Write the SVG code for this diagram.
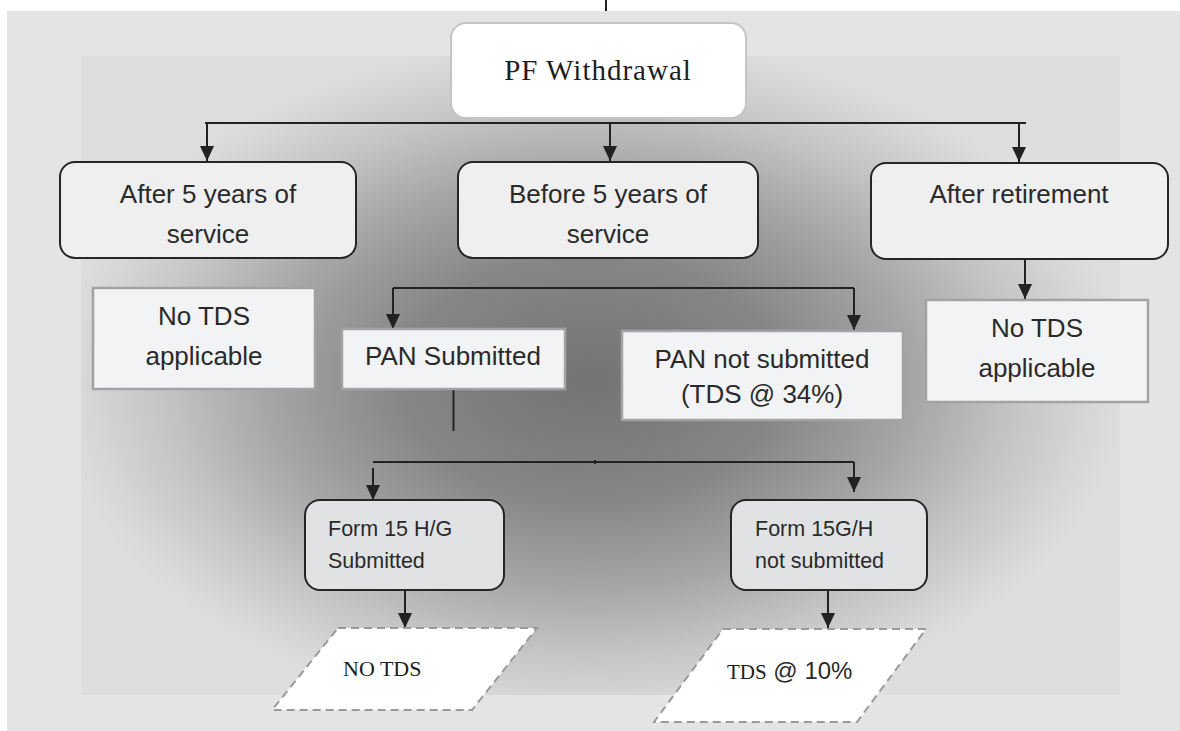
<svg xmlns="http://www.w3.org/2000/svg" width="1180" height="731" viewBox="0 0 1180 731">
  <defs>
    <radialGradient id="shade" gradientUnits="userSpaceOnUse" cx="590" cy="380" r="540" gradientTransform="translate(590 380) scale(1 0.64) translate(-590 -380)">
      <stop offset="0" stop-color="#737373"/>
      <stop offset="0.35" stop-color="#868686"/>
      <stop offset="0.6" stop-color="#a6a6a6"/>
      <stop offset="0.8" stop-color="#c6c6c6"/>
      <stop offset="0.95" stop-color="#d9d9d9"/>
      <stop offset="1" stop-color="#dedede"/>
    </radialGradient>
    <marker id="arrow" markerUnits="userSpaceOnUse" viewBox="0 0 15 14" refX="15" refY="7" markerWidth="15" markerHeight="14" orient="auto">
      <path d="M0,0 L15,7 L0,14 z" fill="#222"/>
    </marker>
    <style>
      .sans { font-family: "Liberation Sans", Arial, sans-serif; fill: #2a2a2a; }
      .serif { font-family: "Liberation Serif", "Times New Roman", serif; fill: #1e1e1e; }
      .big { font-size: 26px; text-anchor: middle; }
      .small { font-size: 21.5px; }
      .branch { fill: #efefef; stroke: #262626; stroke-width: 2; }
      .form { fill: #e1e2e4; stroke: #262626; stroke-width: 2; }
      .note { fill: #f2f3f5; stroke: #a3a3a3; stroke-width: 2.5; }
      .result { fill: #ffffff; stroke: #9a9a9a; stroke-width: 2; stroke-dasharray: 8 5; }
      .link { fill: none; stroke: #222; stroke-width: 2; }
      .arrow { marker-end: url(#arrow); }
    </style>
  </defs>

  <!-- backdrop -->
  <rect x="0" y="0" width="1180" height="731" fill="#ffffff"/>
  <rect x="7" y="11" width="1173" height="720" fill="#e4e4e4"/>
  <rect x="81" y="56" width="1039" height="639" fill="url(#shade)"/>

  <!-- connectors -->
  <g id="connectors">
    <path class="link" d="M606,0 V11" stroke-width="1.5"/>
    <path class="link" d="M205,123 H1026"/>
    <path class="link arrow" d="M207,123 V161"/>
    <path class="link arrow" d="M610,123 V161"/>
    <path class="link arrow" d="M1019,123 V162"/>
    <path class="link arrow" d="M1025,259 V299"/>
    <path class="link" d="M393,288 H854"/>
    <path class="link arrow" d="M393,288 V329"/>
    <path class="link arrow" d="M854,288 V330"/>
    <path class="link" d="M453.5,389 V431"/>
    <path class="link" d="M373,462 H854"/>
    <path class="link" d="M595,460 V464" stroke-width="1.5"/>
    <path class="link arrow" d="M373,468 V500"/>
    <path class="link arrow" d="M854,462 V492"/>
    <path class="link arrow" d="M405,590 V628"/>
    <path class="link arrow" d="M828,590 V628"/>
  </g>

  <g id="pf-withdrawal">
    <rect x="451" y="23" width="295" height="95" rx="15" fill="#ffffff" stroke="#c4c4c4" stroke-width="2"/>
    <text class="serif" x="598" y="80" font-size="29" letter-spacing="1" text-anchor="middle">PF Withdrawal</text>
  </g>

  <g id="after-five-years">
    <rect class="branch" x="60" y="162" width="296" height="96" rx="15"/>
    <text class="sans big" x="208" y="203">After 5 years of</text>
    <text class="sans big" x="208" y="243">service</text>
  </g>

  <g id="before-five-years">
    <rect class="branch" x="458" y="162" width="300" height="96" rx="15"/>
    <text class="sans big" x="608" y="203">Before 5 years of</text>
    <text class="sans big" x="608" y="243">service</text>
  </g>

  <g id="after-retirement">
    <rect class="branch" x="871" y="163" width="297" height="96" rx="15"/>
    <text class="sans big" x="1019" y="203">After retirement</text>
  </g>

  <g id="no-tds-left">
    <rect class="note" x="93" y="288" width="222" height="101"/>
    <text class="sans big" x="204" y="325">No TDS</text>
    <text class="sans big" x="204" y="365">applicable</text>
  </g>

  <g id="no-tds-right">
    <rect class="note" x="926" y="300" width="222" height="102"/>
    <text class="sans big" x="1037" y="337">No TDS</text>
    <text class="sans big" x="1037" y="377">applicable</text>
  </g>

  <g id="pan-submitted">
    <rect class="note" x="342" y="329" width="223" height="60"/>
    <text class="sans big" x="453" y="365">PAN Submitted</text>
  </g>

  <g id="pan-not-submitted">
    <rect class="note" x="622" y="331" width="281" height="89"/>
    <text class="sans big" x="762" y="368">PAN not submitted</text>
    <text class="sans big" x="762" y="403">(TDS @ 34%)</text>
  </g>

  <g id="form-submitted">
    <rect class="form" x="305" y="500" width="199" height="90" rx="15"/>
    <text class="sans small" x="328" y="536">Form 15 H/G</text>
    <text class="sans small" x="328" y="568">Submitted</text>
  </g>

  <g id="form-not-submitted">
    <rect class="form" x="731" y="500" width="196" height="90" rx="15"/>
    <text class="sans small" x="755" y="536">Form 15G/H</text>
    <text class="sans small" x="755" y="568">not submitted</text>
  </g>

  <g id="no-tds-result">
    <polygon class="result" points="338,628 537,628 472,710 272,710"/>
    <text class="serif" x="343" y="676" font-size="22">NO TDS</text>
  </g>

  <g id="tds-ten-result">
    <polygon class="result" points="723,629 926,629 857,722 654,722"/>
    <text x="727" y="679"><tspan class="serif" font-size="21">TDS</tspan><tspan class="sans" font-size="24"> @ 10%</tspan></text>
  </g>
</svg>
